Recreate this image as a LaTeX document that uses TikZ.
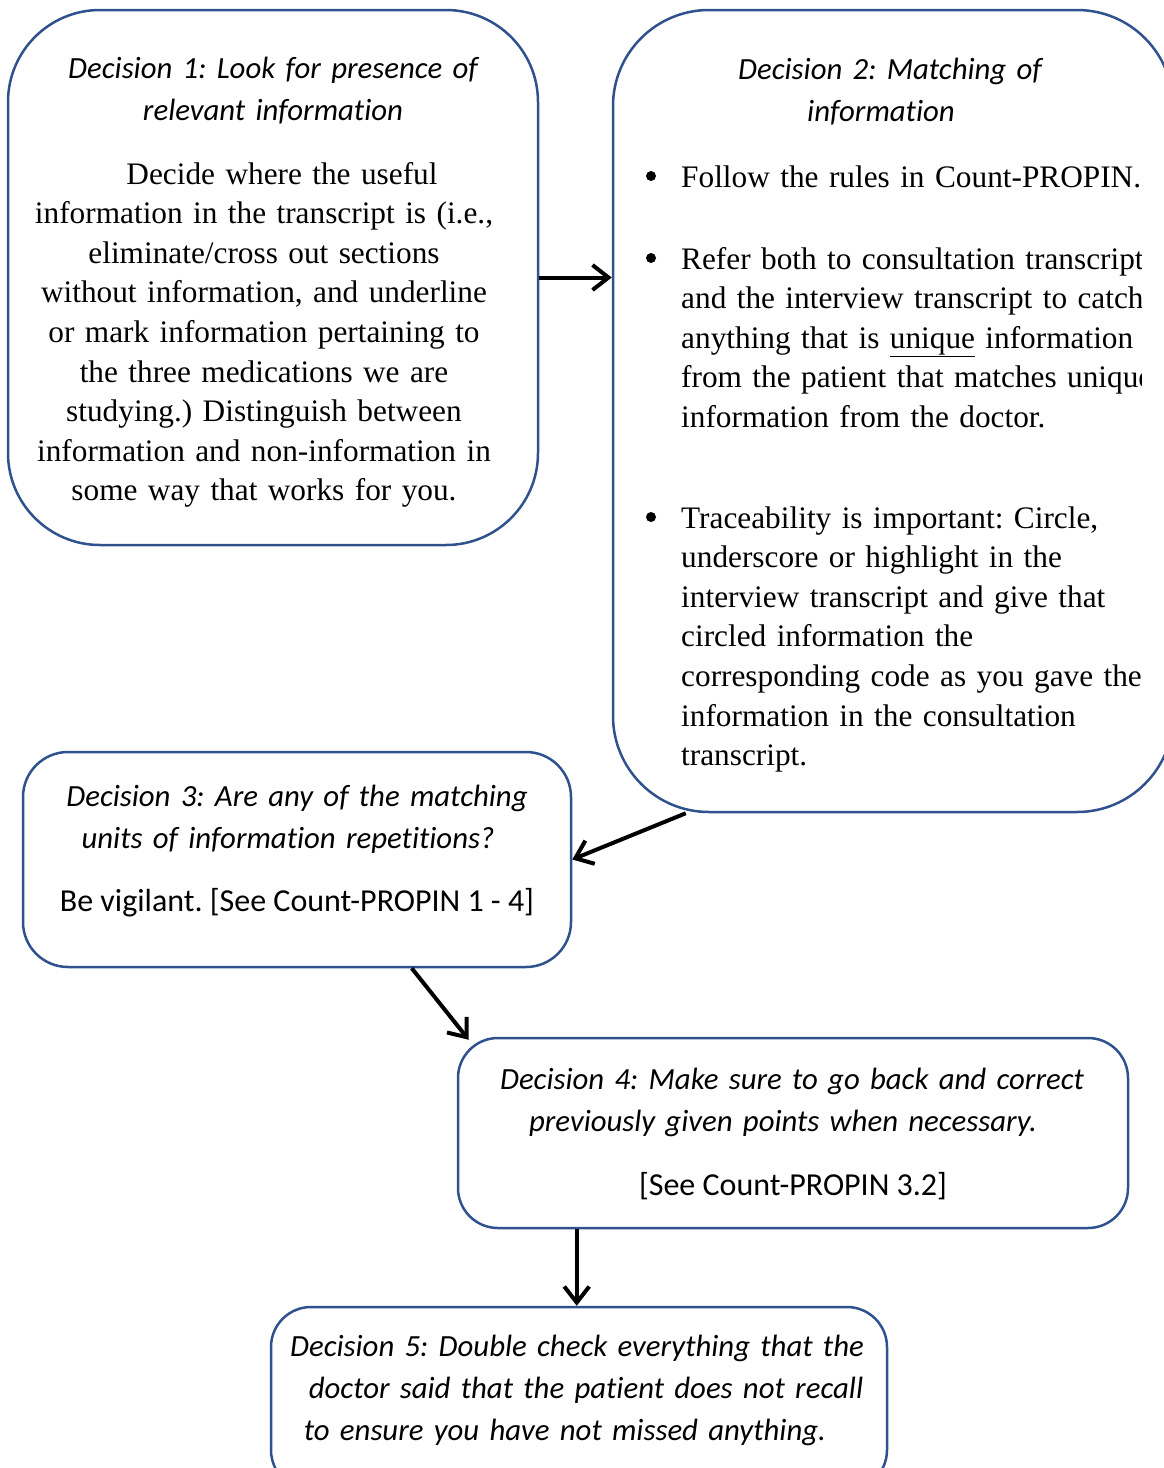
\documentclass[tikz,border=0pt]{standalone}
\usepackage{fontspec}
\setmainfont{Liberation Serif}
\newfontfamily\carlito[Ligatures=NoCommon]{Carlito}
\usetikzlibrary{arrows.meta,calc}
\definecolor{boxblue}{RGB}{47,82,143}
\frenchspacing
\tikzset{
	decbox/.style={draw=boxblue, line width=2.5pt, inner sep=0pt},
	headtxt/.style={font=\frenchspacing\carlito\itshape\fontsize{30.8pt}{42pt}\selectfont, align=center, text width=640pt, inner sep=0pt, anchor=base},
	bodytxt/.style={font=\frenchspacing\fontsize{31.3pt}{39.6pt}\selectfont, align=center, text width=600pt, inner sep=0pt, anchor=base},
	listtxt/.style={font=\frenchspacing\fontsize{31.3pt}{39.6pt}\selectfont, align=left, text width=600pt, inner sep=0pt, anchor=base west},
	plaintxt/.style={font=\frenchspacing\carlito\fontsize{32pt}{42pt}\selectfont, inner sep=0pt, anchor=base},
	bul/.style={circle, fill, inner sep=0pt, minimum size=10pt},
	arr/.style={-{Straight Barb[length=16pt,width=25pt]}, line width=4pt}
}

\begin{document}
\begin{tikzpicture}[x=1pt,y=-1pt]
	\useasboundingbox (0,0) rectangle (1164,1468);
	\node[decbox, rounded corners=92pt, minimum width=530pt, minimum height=535pt] (b1) at (273,277.5) {};
	\node[decbox, rounded corners=96pt, minimum width=560pt, minimum height=802pt] (b2) at (893,411) {};
	\node[decbox, rounded corners=45pt, minimum width=548pt, minimum height=215pt] (b3) at (297,859.5) {};
	\node[decbox, rounded corners=40pt, minimum width=670pt, minimum height=190pt] (b4) at (793,1133) {};
	\node[decbox, rounded corners=40pt, minimum width=616pt, minimum height=183pt] (b5) at (579,1398.5) {};

	\node[headtxt] (h1) at (273,78) {Decision 1: Look for presence of\\relevant information};
	\node[bodytxt] (t1) at (264,184) {\hspace*{36pt}Decide where the useful\\information in the transcript is (i.e.,\\eliminate/cross out sections\\without information, and underline\\or mark information pertaining to\\the three medications we are\\studying.) Distinguish between\\information and non-information in\\some way that works for you.};

	\node[headtxt] (h2) at (890,79) {Decision 2: Matching of\\\hspace*{-18pt}information};
	\node[bul] (d1) at (651,176) {};
	\node[bul] (d2) at (651,258) {};
	\node[bul] (d3) at (651,517) {};
	\begin{scope}
		\clip (613,0) rectangle (1141,812);
		\node[listtxt] (l1) at (681,187) {Follow the rules in Count-PROPIN.};
		\node[listtxt] (l2) at (681,269) {Refer both to consultation transcript\\and the interview transcript to catch\\anything that is \underline{unique} information\\from the patient that matches unique\\information from the doctor.};
		\node[listtxt] (l3) at (681,528) {Traceability is important: Circle,\\underscore or highlight in the\\interview transcript and give that\\circled information the\\corresponding code as you gave the\\information in the consultation\\transcript.};
	\end{scope}

	\node[headtxt] (h3) at (297,806) {Decision 3: Are any of the matching\\\hspace*{-18pt}units of information repetitions?};
	\node[plaintxt] (t3) at (297,911) {Be vigilant. [See Count-PROPIN 1 - 4]};

	\node[headtxt] (h4) at (792,1089) {Decision 4: Make sure to go back and correct\\\hspace*{-18pt}previously given points when necessary.};
	\node[plaintxt] (t4) at (793,1195) {[See Count-PROPIN 3.2]};

	\node[headtxt] (h5) at (577,1356) {Decision 5: Double check everything that the\\\hspace*{18pt}doctor said that the patient does not recall\\\hspace*{-24pt}to ensure you have not missed anything.};

	\draw[arr] (b1.east) -- (b1.east -| b2.west);
	\draw[arr] ($(b2.south west)+(74,0)$) -- (b3.east);
	\draw[arr] ($(b3.south west)+(390,0)$) -- ($(b4.north west)+(12,3)$);
	\draw[arr] ($(b4.south west)+(120,0)$) -- ($(b5.north west)+(307,0)$);
\end{tikzpicture}
\end{document}
